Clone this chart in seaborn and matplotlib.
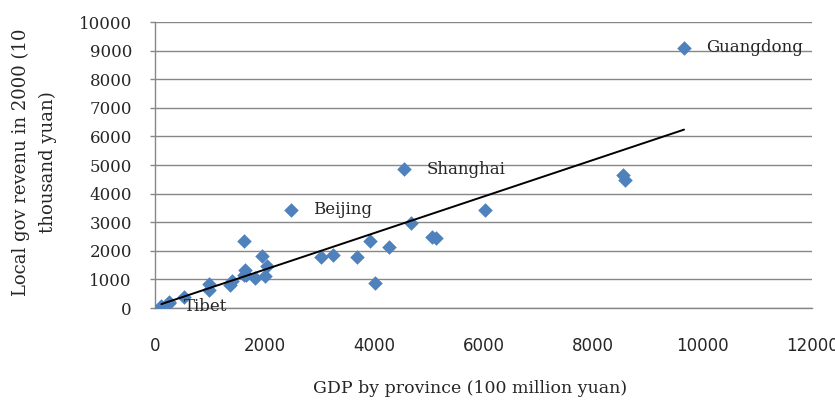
import numpy as np
import pandas as pd
import matplotlib

matplotlib.use("Agg")

import matplotlib.pyplot as plt
import seaborn as sns


# =========================================================
# DATA
# =========================================================

provinces = [
    "Tibet", "Qinghai", "Ningxia", "Hainan", "Guizhou", "Gansu",
    "Inner Mongolia", "Xinjiang", "Chongqing", "Tianjin", "Shanxi",
    "Shaanxi", "Jilin", "Yunnan", "Guangxi", "Jiangxi", "Beijing",
    "Anhui", "Heilongjiang", "Hunan", "Fujian", "Sichuan", "Hubei",
    "Liaoning", "Shanghai", "Hebei", "Henan", "Zhejiang", "Shandong",
    "Jiangsu", "Guangdong",
]

gdp = [
    117, 263, 265, 525, 994, 983,
    1401, 1364, 1625, 1650, 1630,
    1661, 1821, 1955, 2050, 2003, 2479,
    3038, 3253, 3692, 3920, 4010, 4276,
    4669, 4551, 5060, 5140, 6036, 8542,
    8583, 9662,
]

revenue = [
    54, 170, 210, 400, 852, 613,
    950, 789, 2330, 1336, 1145,
    1149, 1038, 1808, 1471, 1115, 3442,
    1787, 1853, 1779, 2344, 870, 2144,
    2965, 4854, 2488, 2440, 3428, 4637,
    4483, 9106,
]

labelled = ["Guangdong", "Shanghai", "Beijing", "Tibet"]

x_ticks = [0, 2000, 4000, 6000, 8000, 10000, 12000]
y_ticks = [0, 1000, 2000, 3000, 4000, 5000, 6000, 7000, 8000, 9000, 10000]


# =========================================================
# STYLE
# =========================================================

sns.set_style("white")

SERIF = ["DejaVu Serif"]
SANS = ["DejaVu Sans"]
GRID = "#878787"
BLUE = "#4F81BD"


# =========================================================
# PLOT
# =========================================================

df = pd.DataFrame({
    "province": provinces,
    "gdp": gdp,
    "revenue": revenue,
})

fig = plt.figure(figsize=(8.35, 4.03), dpi=100)
ax = fig.add_axes([0.1856, 0.2357, 0.7869, 0.7097])

sns.scatterplot(
    data=df,
    x="gdp",
    y="revenue",
    marker="D",
    s=55,
    color=BLUE,
    edgecolor=BLUE,
    linewidth=0,
    zorder=3,
    ax=ax,
)

# linear trend line over the data range
slope, intercept = np.polyfit(df["gdp"], df["revenue"], 1)
trend_x = np.array([df["gdp"].min(), df["gdp"].max()])
ax.plot(
    trend_x,
    slope * trend_x + intercept,
    color="black",
    linewidth=1.4,
    zorder=4,
)

for _, row in df[df["province"].isin(labelled)].iterrows():
    ax.annotate(
        row["province"],
        xy=(row["gdp"], row["revenue"]),
        xytext=(16, 0),
        textcoords="offset points",
        ha="left",
        va="center",
        fontsize=12,
        family=SERIF,
        zorder=5,
    )

ax.set_xlim(0, 12000)
ax.set_ylim(0, 10000)
ax.set_xticks(x_ticks)
ax.set_yticks(y_ticks)

ax.set_xticklabels([str(t) for t in x_ticks], family=SANS, fontsize=12)
ax.set_yticklabels([str(t) for t in y_ticks], family=SERIF, fontsize=12)

ax.grid(axis="y", color=GRID, linewidth=1)
ax.grid(axis="x", visible=False)
ax.set_axisbelow(True)

ax.tick_params(axis="y", length=3.6, width=1, color=GRID, pad=13, left=True)
ax.tick_params(axis="x", length=0, pad=21)

for side in ["top", "right"]:
    ax.spines[side].set_visible(False)
for side in ["left", "bottom"]:
    ax.spines[side].set_color(GRID)
    ax.spines[side].set_linewidth(1)

ax.set_xlabel(
    "GDP by province (100 million yuan)",
    family=SERIF,
    fontsize=12.5,
)
ax.set_ylabel(
    "Local gov revenu in 2000 (10\nthousand yuan)",
    family=SERIF,
    fontsize=13,
    linespacing=1.6,
)
ax.xaxis.set_label_coords(0.48, -0.252)
ax.yaxis.set_label_coords(-0.149, 0.51)

fig.savefig("out.png", dpi=100)
